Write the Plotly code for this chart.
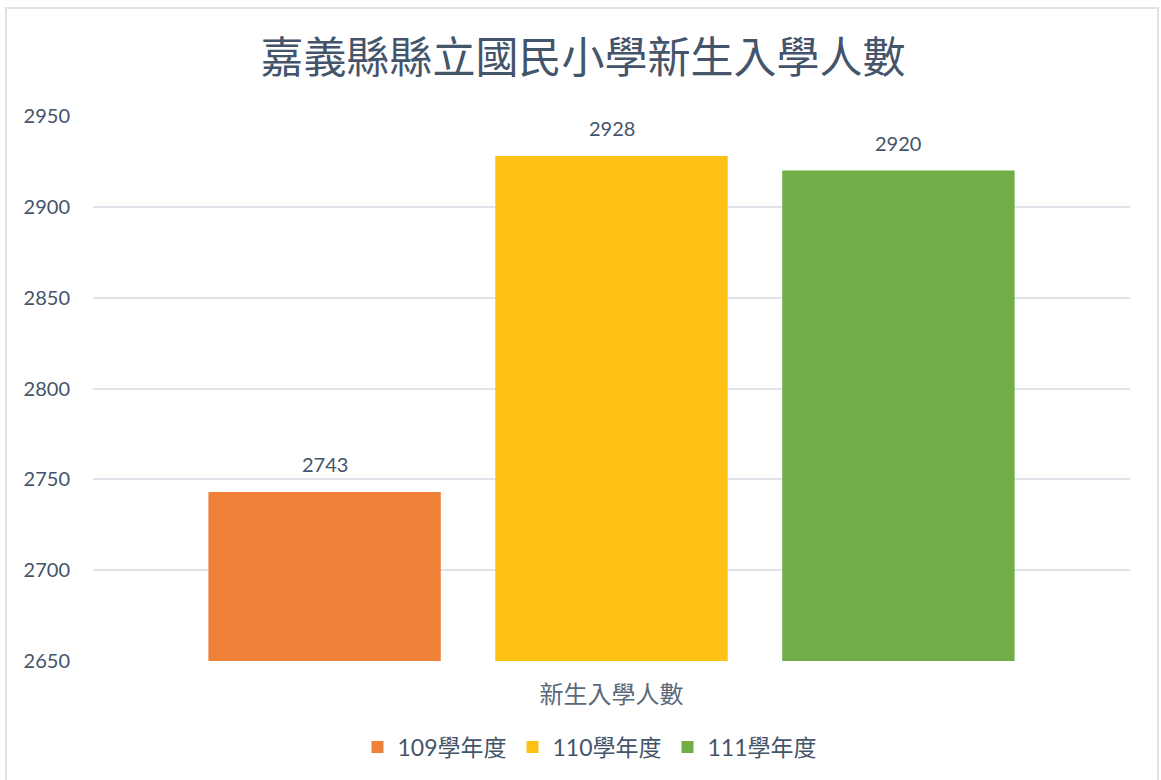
import plotly.graph_objects as go

# ---- data ----
category = ["新生入學人數"]
series_names = ["109學年度", "110學年度", "111學年度"]
series_values = [2743, 2928, 2920]
series_colors = ["#EF8038", "#FDC115", "#71AE48"]
title_text = "嘉義縣縣立國民小學新生入學人數"
y_ticks = [2650, 2700, 2750, 2800, 2850, 2900, 2950]

W, H = 1161, 780
ML, MR, MT, MB = 93, 31, 116, 119
BARGAP = 0.17
BARGROUPGAP = 0.19
TXT = "#44546A"
NUMFONT = "Lato, 'Noto Sans CJK TC', sans-serif"
CJKFONT = "'Noto Sans CJK TC', Lato, sans-serif"

fig = go.Figure()
for name, val, col in zip(series_names, series_values, series_colors):
    fig.add_trace(go.Bar(
        x=category, y=[val], name=name,
        marker=dict(color=col, line=dict(width=0)),
        hoverinfo="skip",
    ))

# data labels above each bar, positioned from bar layout parameters
n = len(series_values)
slot = (1 - BARGAP) / n
for k, val in enumerate(series_values):
    fig.add_annotation(
        x=(k - (n - 1) / 2) * slot, y=val, xref="x", yref="y",
        text=str(val), showarrow=False, yanchor="bottom", yshift=14,
        font=dict(family=NUMFONT, size=20, color=TXT),
    )

pw = W - ML - MR
ph = H - MT - MB
# chart border
fig.add_shape(
    type="rect", xref="paper", yref="paper",
    x0=(6 - ML) / pw, x1=(1158 - ML) / pw,
    y0=(H - MB - 790) / ph, y1=(H - MB - 8) / ph,
    line=dict(color="#DDE2E9", width=2), fillcolor="rgba(0,0,0,0)",
    layer="below",
)

fig.update_layout(
    width=W, height=H,
    margin=dict(l=ML, r=MR, t=MT, b=MB, pad=0),
    paper_bgcolor="white", plot_bgcolor="white",
    barmode="group", bargap=BARGAP, bargroupgap=BARGROUPGAP,
    title=dict(
        text=title_text, x=(583 / W), xanchor="center",
        y=1 - 58 / H, yanchor="middle",
        font=dict(family=CJKFONT, size=43, color=TXT),
    ),
    xaxis=dict(
        type="category", showgrid=False, showline=False, zeroline=False,
        ticks="", ticklabelstandoff=17,
        tickfont=dict(family=CJKFONT, size=24, color="#5B6879"),
    ),
    yaxis=dict(
        range=[2650, 2950], tickvals=y_ticks, ticktext=[str(v) for v in y_ticks],
        showgrid=True, gridcolor="#E0E4EA", gridwidth=1.5,
        zeroline=False, showline=False, ticks="", ticklabelstandoff=22,
        tickfont=dict(family=NUMFONT, size=20, color=TXT),
    ),
    legend=dict(
        orientation="h", x=(590 - ML) / pw, xanchor="center",
        y=(H - MB - 747) / ph, yanchor="middle",
        font=dict(family=NUMFONT, size=23, color=TXT),
        entrywidth=110, entrywidthmode="pixels",
        itemwidth=30, bgcolor="rgba(0,0,0,0)",
        traceorder="normal",
    ),
    showlegend=True,
)

fig.write_html("out.html")
